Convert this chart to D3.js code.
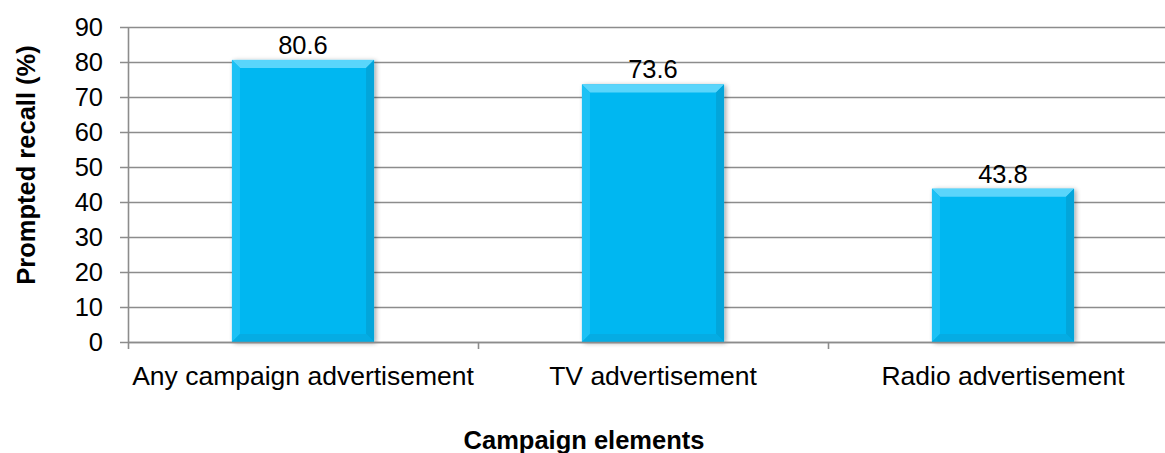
<!DOCTYPE html>
<html>
<head>
<meta charset="utf-8">
<script src="https://cdn.jsdelivr.net/npm/d3@7"></script>
<style>
  html, body { margin: 0; padding: 0; background: #fff; }
  svg { display: block; }
  text { font-family: "Liberation Sans", Arial, sans-serif; fill: #000; }
</style>
</head>
<body>
<svg id="chart" width="1165" height="453"></svg>
<script>
// Prompted recall by campaign element
const categories = ["Any campaign advertisement", "TV advertisement", "Radio advertisement"];
const recall = [80.6, 73.6, 43.8];
const yTicks = [0, 10, 20, 30, 40, 50, 60, 70, 80, 90];

const svg = d3.select("#chart");
const plotLeft = 128, plotRight = 1178, plotTop = 27, plotBottom = 342;
const fontSize = 25.5;

const x = d3.scaleBand().domain(categories).range([plotLeft, plotRight]).paddingInner(0.594).paddingOuter(0.297);
const y = d3.scaleLinear().domain([0, 90]).range([plotBottom, plotTop]);

const defs = svg.append("defs");
const shadow = defs.append("filter").attr("id", "barShadow")
  .attr("x", "-10%").attr("y", "-10%").attr("width", "130%").attr("height", "130%");
shadow.append("feGaussianBlur").attr("in", "SourceAlpha").attr("stdDeviation", 2.5).attr("result", "b");
shadow.append("feOffset").attr("in", "b").attr("dx", 2).attr("dy", 1).attr("result", "o");
shadow.append("feComponentTransfer").attr("in", "o").attr("result", "s")
  .append("feFuncA").attr("type", "linear").attr("slope", 0.35);
const merge = shadow.append("feMerge");
merge.append("feMergeNode").attr("in", "s");
merge.append("feMergeNode").attr("in", "SourceGraphic");

// horizontal gridlines with tick marks on the left
svg.append("g").selectAll("line").data(yTicks).join("line")
  .attr("x1", plotLeft - 8).attr("x2", 1165)
  .attr("y1", d => Math.round(y(d)) + 0.5).attr("y2", d => Math.round(y(d)) + 0.5)
  .attr("stroke", "#8c8c8c").attr("stroke-width", 1.6);

// y axis labels
svg.append("g").selectAll("text").data(yTicks).join("text")
  .attr("x", 103).attr("y", d => y(d))
  .attr("dy", "0.36em").attr("text-anchor", "end")
  .attr("font-size", fontSize).text(d => d);

// vertical axis line
svg.append("line").attr("x1", plotLeft + 0.5).attr("x2", plotLeft + 0.5)
  .attr("y1", plotTop).attr("y2", plotBottom + 7)
  .attr("stroke", "#8c8c8c").attr("stroke-width", 1.6);

// category separator ticks between bands
const separators = categories.slice(1).map(c => Math.round(x(c) - x.step() * x.paddingInner() / 2) + 0.5);
svg.append("g").selectAll("line").data(separators).join("line")
  .attr("x1", d => d).attr("x2", d => d)
  .attr("y1", plotBottom).attr("y2", plotBottom + 7)
  .attr("stroke", "#8c8c8c").attr("stroke-width", 1.6);

// bars with bevelled edges
const bev = 8;
const bars = svg.append("g").selectAll("g").data(categories).join("g");
bars.each(function(c, i) {
  const g = d3.select(this);
  const x0 = x(c), x1 = x(c) + x.bandwidth();
  const y0 = y(recall[i]), y1 = y(0);
  g.append("rect").attr("x", x0).attr("y", y0).attr("width", x1 - x0).attr("height", y1 - y0)
    .attr("fill", "#03b7f1").attr("filter", "url(#barShadow)");
  // top edge
  g.append("polygon").attr("points", [[x0, y0], [x1, y0], [x1 - bev, y0 + bev], [x0 + bev, y0 + bev]].join(" "))
    .attr("fill", "#5ad5fb");
  // left edge
  g.append("polygon").attr("points", [[x0, y0], [x0 + bev, y0 + bev], [x0 + bev, y1 - bev], [x0, y1]].join(" "))
    .attr("fill", "#1cc1f5");
  // right edge
  g.append("polygon").attr("points", [[x1, y0], [x1, y1], [x1 - bev, y1 - bev], [x1 - bev, y0 + bev]].join(" "))
    .attr("fill", "#03a5da");
  // bottom edge
  g.append("polygon").attr("points", [[x0, y1], [x1, y1], [x1 - bev, y1 - bev], [x0 + bev, y1 - bev]].join(" "))
    .attr("fill", "#05ace3");
  // value label
  g.append("text").attr("x", (x0 + x1) / 2).attr("y", y0 - 6)
    .attr("text-anchor", "middle").attr("font-size", fontSize).text(recall[i]);
});

// baseline drawn over the bars
svg.append("line").attr("x1", plotLeft).attr("x2", 1165)
  .attr("y1", plotBottom + 0.5).attr("y2", plotBottom + 0.5)
  .attr("stroke", "#8c8c8c").attr("stroke-width", 1.6);

// category labels
svg.append("g").selectAll("text").data(categories).join("text")
  .attr("x", c => x(c) + x.bandwidth() / 2).attr("y", 385)
  .attr("text-anchor", "middle").attr("font-size", 26.5).text(c => c);

// axis titles
svg.append("text").attr("x", 584).attr("y", 449)
  .attr("text-anchor", "middle").attr("font-size", fontSize).attr("font-weight", "bold")
  .text("Campaign elements");
svg.append("text").attr("transform", "translate(35,165) rotate(-90)")
  .attr("text-anchor", "middle").attr("font-size", fontSize).attr("font-weight", "bold")
  .text("Prompted recall (%)");
</script>
</body>
</html>
